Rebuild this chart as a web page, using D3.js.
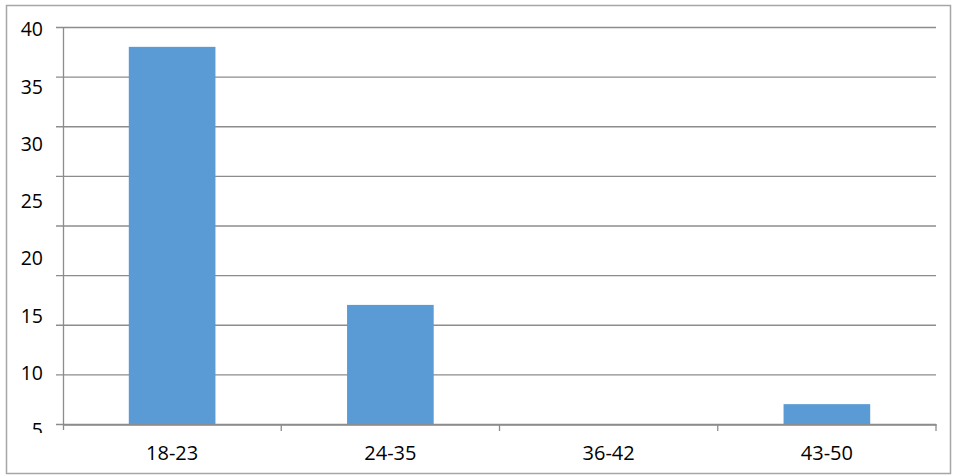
<!DOCTYPE html>
<html>
<head>
<meta charset="utf-8">
<script src="https://cdn.jsdelivr.net/npm/d3@7"></script>
<style>
  body { margin: 0; background: #fff; }
  text { font-family: "Open Sans", "Liberation Sans", sans-serif; fill: #000; }
</style>
</head>
<body>
<div id="chart"></div>
<script>
// chart data
var categories = ["18-23", "24-35", "36-42", "43-50"];
var counts = [38, 12, 0, 2];
var gridTicks = [0, 5, 10, 15, 20, 25, 30, 35, 40];
var yTickLabels = [40, 35, 30, 25, 20, 15, 10, 5];

var svgWidth = 960;
var svgHeight = 476;

var plot = { left: 63, right: 936, top: 27, bottom: 424 };

var svg = d3.select("#chart")
  .append("svg")
  .attr("width", svgWidth)
  .attr("height", svgHeight);

// outer frame
svg.append("rect")
  .attr("x", 6.5)
  .attr("y", 5.5)
  .attr("width", 944)
  .attr("height", 468)
  .attr("fill", "none")
  .attr("stroke", "#a6a6a6")
  .attr("stroke-width", 1.5);

var xScale = d3.scaleBand()
  .domain(categories)
  .range([plot.left, plot.right])
  .padding(0);

var yScale = d3.scaleLinear()
  .domain([0, 40])
  .range([plot.bottom, plot.top]);

// the labels are spaced differently from the gridlines in the source
var labelScale = d3.scaleLinear()
  .domain([5, 40])
  .range([430.5, 29.5]);

// gridlines + small left ticks
svg.append("g")
  .selectAll("line")
  .data(gridTicks)
  .join("line")
  .attr("x1", plot.left - 7)
  .attr("x2", plot.right)
  .attr("y1", d => yScale(d) + 0.5)
  .attr("y2", d => yScale(d) + 0.5)
  .attr("stroke", "#8c8c8c")
  .attr("stroke-width", 1.3);

// bars
var barWidth = xScale.bandwidth() * 0.397;
svg.append("g")
  .selectAll("rect")
  .data(categories)
  .join("rect")
  .attr("x", (d, i) => xScale(d) + (xScale.bandwidth() - barWidth) / 2)
  .attr("y", (d, i) => yScale(counts[i]))
  .attr("width", barWidth)
  .attr("height", (d, i) => yScale(0) - yScale(counts[i]))
  .attr("fill", "#5b9bd5");

// left axis line
svg.append("line")
  .attr("x1", plot.left + 0.5)
  .attr("x2", plot.left + 0.5)
  .attr("y1", plot.top)
  .attr("y2", plot.bottom + 6)
  .attr("stroke", "#8c8c8c")
  .attr("stroke-width", 1.3);

// bottom axis
var bottomAxis = d3.axisBottom(xScale).tickSize(0).tickPadding(21);
var xAxis = svg.append("g")
  .attr("transform", `translate(0, ${plot.bottom + 0.5})`)
  .call(bottomAxis);
xAxis.select(".domain").attr("stroke", "#8c8c8c").attr("stroke-width", 1.3);
xAxis.selectAll("text")
  .style("font-size", "20px")
  .style("font-family", "'Open Sans', 'Liberation Sans', sans-serif");

// category boundary ticks
var boundaries = categories.map(d => xScale(d) + xScale.bandwidth());
svg.append("g")
  .selectAll("line")
  .data(boundaries)
  .join("line")
  .attr("x1", d => d)
  .attr("x2", d => d)
  .attr("y1", plot.bottom)
  .attr("y2", plot.bottom + 7)
  .attr("stroke", "#8c8c8c")
  .attr("stroke-width", 1.3);

// y labels, clipped at the bottom like the source
svg.append("clipPath")
  .attr("id", "ylabClip")
  .append("rect")
  .attr("x", 0).attr("y", 0)
  .attr("width", plot.left).attr("height", 433);

var leftAxis = d3.axisLeft(labelScale).tickValues(yTickLabels).tickSize(0).tickPadding(0);
var yAxis = svg.append("g")
  .attr("clip-path", "url(#ylabClip)")
  .append("g")
  .attr("transform", "translate(43, 0)")
  .call(leftAxis);
yAxis.select(".domain").remove();
yAxis.selectAll("text")
  .style("font-size", "19.5px")
  .style("font-family", "'Open Sans', 'Liberation Sans', sans-serif");
</script>
</body>
</html>
